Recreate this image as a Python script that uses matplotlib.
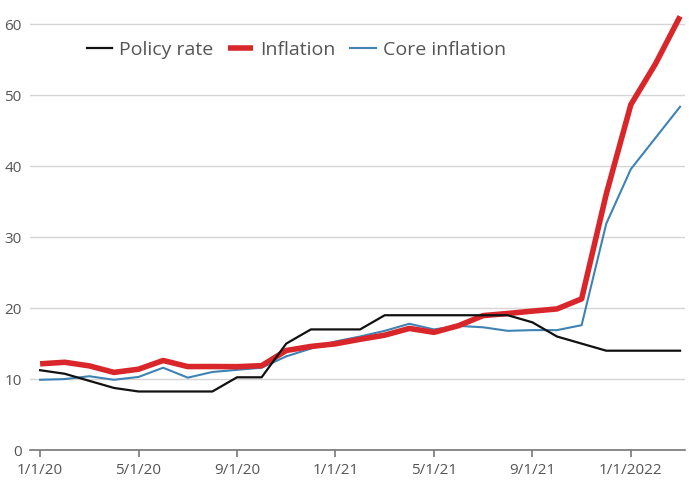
import matplotlib
matplotlib.use("Agg")
import matplotlib.pyplot as plt
from matplotlib import font_manager as fm

months = list(range(27))  # Jan 2020 .. Mar 2022
policy_rate = [11.25, 10.75, 9.75, 8.75, 8.25, 8.25, 8.25, 8.25, 10.25, 10.25, 15.0, 17.0,
               17.0, 17.0, 19.0, 19.0, 19.0, 19.0, 19.0, 19.0, 18.0, 16.0, 15.0, 14.0,
               14.0, 14.0, 14.0]
inflation = [12.15, 12.37, 11.86, 10.94, 11.39, 12.62, 11.76, 11.77, 11.75, 11.89, 14.03, 14.60,
             14.97, 15.61, 16.19, 17.14, 16.59, 17.53, 18.95, 19.25, 19.58, 19.89, 21.31, 36.08,
             48.69, 54.44, 61.14]
core_inflation = [9.9, 10.0, 10.4, 9.9, 10.3, 11.6, 10.2, 11.0, 11.3, 11.6, 13.2, 14.3,
                  15.3, 16.0, 16.8, 17.8, 17.0, 17.5, 17.3, 16.8, 16.9, 16.9, 17.6, 31.9,
                  39.6, 44.0, 48.4]
x_tick_pos = [0, 4, 8, 12, 16, 20, 24]
x_tick_labels = ["1/1/20", "5/1/20", "9/1/20", "1/1/21", "5/1/21", "9/1/21", "1/1/2022"]
y_ticks = [0, 10, 20, 30, 40, 50, 60]

names = {f.name for f in fm.fontManager.ttflist}
tick_font = ["Liberation Sans Narrow", "DejaVu Sans"] if "Liberation Sans Narrow" in names else ["Open Sans", "DejaVu Sans"]
plt.rcParams['font.family'] = ["Open Sans", "DejaVu Sans"]

fig = plt.figure(figsize=(6.89, 4.92), dpi=100)
ax = fig.add_axes([30/689, 42/492, 655/689, 444/492])

ax.plot(months, core_inflation, color="#3f83b5", lw=1.5, zorder=3, label="Core inflation")
ax.plot(months, inflation, color="#d9262a", lw=4.0, zorder=4, label="Inflation", solid_capstyle="butt")
ax.plot(months, policy_rate, color="#111111", lw=1.6, zorder=5, label="Policy rate")

ax.set_xlim(-0.41, 26.2)
ax.set_ylim(0, 62.6)
ax.set_yticks(y_ticks)
ax.set_xticks(x_tick_pos)
ax.set_xticklabels(x_tick_labels)
ax.grid(axis="y", color="#d5d5d5", lw=1.0)
ax.set_axisbelow(True)
for s in ["left", "right", "top"]:
    ax.spines[s].set_visible(False)
ax.spines["bottom"].set_color("#777777")
ax.spines["bottom"].set_linewidth(1.2)
ax.tick_params(axis="y", length=0, pad=6, labelcolor="#555555", labelsize=11)
ax.tick_params(axis="x", length=5, width=1.2, color="#777777", pad=4, labelcolor="#555555", labelsize=11)
for lab in ax.get_xticklabels() + ax.get_yticklabels():
    lab.set_family(tick_font)

handles, labels = ax.get_legend_handles_labels()
order = [2, 1, 0]
leg = ax.legend([handles[i] for i in order], [labels[i] for i in order], loc="center left",
                bbox_to_anchor=(87/689, 1 - 50/492), bbox_transform=fig.transFigure,
                ncol=3, frameon=False, fontsize=14, borderpad=0, borderaxespad=0,
                handlelength=1.3, handletextpad=0.36, columnspacing=0.75, labelcolor="#555555")

fig.savefig("out.png", dpi=100)
